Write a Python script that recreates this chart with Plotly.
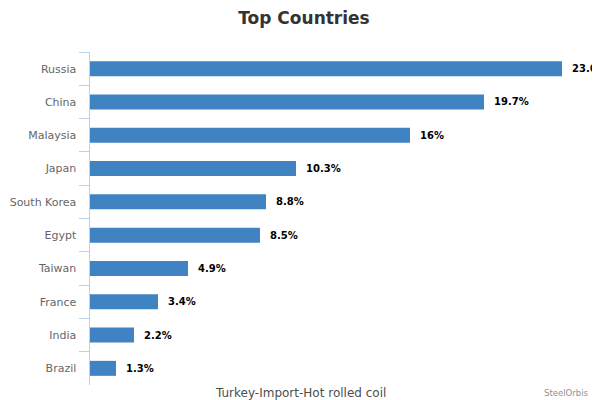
import plotly.graph_objects as go

# Data
countries = ['Russia', 'China', 'Malaysia', 'Japan', 'South Korea',
             'Egypt', 'Taiwan', 'France', 'India', 'Brazil']
shares = [23.6, 19.7, 16, 10.3, 8.8, 8.5, 4.9, 3.4, 2.2, 1.3]

fig = go.Figure()

# small gap between bar end and value label
pad = '\u00a0\u00a0'
fig.add_trace(go.Bar(
    y=countries,
    x=shares,
    orientation='h',
    marker=dict(color='#4083C3', line=dict(width=0)),
    width=0.45,
    text=[f"<b>{pad}{v:g}%</b>" for v in shares],
    textposition='outside',
    constraintext='none',
    cliponaxis=False,
    textfont=dict(size=10, color='#000000', family='DejaVu Sans'),
    hovertemplate='<b>%{y}</b><br>%{x}%<extra></extra>'
))

# page body has an 8px margin, so the figure is sized to fill the rest
fig.update_layout(
    width=592,
    height=392,
    template='plotly_white',
    plot_bgcolor='white',
    paper_bgcolor='white',
    showlegend=False,
    margin=dict(l=82, r=10, t=44, b=15),
    title=dict(
        text='<b>Top Countries</b>',
        x=0.5, xanchor='center', xref='container',
        y=0.99, yanchor='top', yref='container',
        pad=dict(t=0, b=0),
        font=dict(size=17, color='#333333', family='DejaVu Sans')
    ),
    font=dict(family='DejaVu Sans', size=11, color='#666666'),
    xaxis=dict(
        range=[0, 25],
        showgrid=False,
        zeroline=False,
        showticklabels=False,
        showline=False,
        automargin=False
    ),
    yaxis=dict(
        autorange='reversed',
        automargin=False,
        showgrid=False,
        showline=True,
        linecolor='#C0D0E0',
        linewidth=1,
        ticks='outside',
        tickson='boundaries',
        ticklen=10,
        tickcolor='#C0D0E0',
        ticksuffix='\u00a0\u00a0\u00a0',
        tickfont=dict(size=11, color='#666666')
    )
)

fig.add_annotation(
    text='Turkey-Import-Hot rolled coil',
    xref='paper', yref='paper',
    x=0.42, y=-0.024, xanchor='center', yanchor='middle',
    showarrow=False,
    font=dict(size=12, color='#4D4D4D', family='DejaVu Sans')
)

fig.add_annotation(
    text='SteelOrbis',
    xref='paper', yref='paper',
    x=1.0, y=-0.024, xanchor='right', yanchor='middle',
    showarrow=False,
    font=dict(size=8.5, color='#909090', family='DejaVu Sans')
)

fig.write_html("out.html")
